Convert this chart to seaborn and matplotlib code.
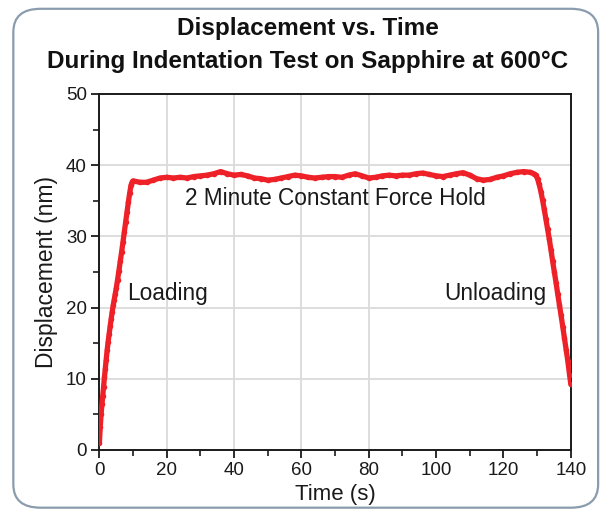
import numpy as np
import pandas as pd
import matplotlib
matplotlib.use("Agg")
import matplotlib.pyplot as plt
import seaborn as sns
from matplotlib.patches import FancyBboxPatch

# ---- data ----
load_t = [0.0, 0.25, 0.5, 0.75, 1.0, 1.25, 1.5, 1.75, 2.0, 2.3, 2.6, 2.9, 3.2, 3.5, 3.8,
          4.1, 4.4, 4.7, 5.0, 5.4, 5.8, 6.2, 6.6, 7.0, 7.4, 7.8, 8.2, 8.6, 9.0, 9.4, 9.8]
load_d = [1.0, 3.2, 5.0, 6.4, 7.6, 8.9, 10.2, 11.4, 12.6, 14.0, 15.2, 16.3, 17.4, 18.4, 19.4,
          20.3, 21.1, 21.9, 22.7, 23.9, 25.2, 26.5, 27.8, 29.2, 30.6, 32.0, 33.4, 34.8, 36.1, 37.2, 37.7]
hold_t = [10, 12, 14, 16, 18, 20, 22, 24, 26, 28, 30, 32, 34, 36, 38, 40, 42, 44, 46, 48,
          50, 52, 54, 56, 58, 60, 62, 64, 66, 68, 70, 72, 74, 76, 78, 80, 82, 84, 86, 88,
          90, 92, 94, 96, 98, 100, 102, 104, 106, 108, 110, 112, 114, 116, 118, 120, 122,
          124, 126, 128, 129]
hold_d = [37.8, 37.6, 37.6, 37.9, 38.2, 38.3, 38.2, 38.3, 38.2, 38.4, 38.5, 38.6, 38.8, 39.1,
          38.8, 38.6, 38.7, 38.5, 38.2, 38.1, 37.9, 38.0, 38.2, 38.4, 38.6, 38.5, 38.3, 38.2,
          38.3, 38.4, 38.4, 38.3, 38.6, 38.8, 38.5, 38.2, 38.3, 38.5, 38.6, 38.5, 38.6, 38.6,
          38.8, 38.9, 38.7, 38.5, 38.4, 38.6, 38.8, 38.95, 38.6, 38.1, 37.9, 38.0, 38.3, 38.5,
          38.8, 39.0, 39.1, 39.0, 38.8]
unload_t = [129.6, 130.1, 130.6, 131.1, 131.6, 132.1, 132.6, 133.1, 133.6, 134.1, 134.6,
            135.1, 135.6, 136.1, 136.6, 137.1, 137.6, 138.1, 138.6, 139.1, 139.6, 140.0]
unload_d = [38.6, 38.1, 37.3, 36.3, 35.1, 33.8, 32.4, 31.0, 29.6, 28.1, 26.5,
            25.0, 23.5, 21.9, 20.4, 18.9, 17.3, 15.7, 14.1, 12.5, 10.6, 9.2]

x_ticks = [0, 20, 40, 60, 80, 100, 120, 140]
y_ticks = [0, 10, 20, 30, 40, 50]

df = pd.DataFrame({"Time (s)": load_t + hold_t + unload_t,
                   "Displacement (nm)": load_d + hold_d + unload_d})

sns.set_theme(style="white")
plt.rcParams["font.family"] = ["Liberation Sans", "DejaVu Sans"]

fig = plt.figure(figsize=(6.06, 5.17), dpi=100)
fig.patch.set_facecolor("white")

# rounded frame (behind everything)
frame = FancyBboxPatch((0.022, 0.018), 0.965, 0.965,
                       boxstyle="round,pad=0,rounding_size=0.045",
                       transform=fig.transFigure, facecolor="white",
                       edgecolor="#8a9cad", linewidth=1.6, zorder=-10)
fig.patches.append(frame)

ax = fig.add_axes([0.164, 0.1296, 0.778, 0.6886])
ax.set_zorder(5)
ax.set_facecolor("none")

red = "#ee2128"
sns.lineplot(data=df, x="Time (s)", y="Displacement (nm)", ax=ax, color=red,
             linewidth=3.8, marker="o", markersize=4.0, markeredgewidth=0,
             sort=False, zorder=3)

ax.set_xlim(0, 140)
ax.set_ylim(0, 50)
ax.set_xticks(x_ticks)
ax.set_yticks(y_ticks)
ax.set_xticks(range(10, 140, 20), minor=True)
ax.set_yticks(range(5, 50, 10), minor=True)

for gx in [20, 40, 60, 80]:
    ax.axvline(gx, color="#dadada", linewidth=1.3, zorder=1)
for gy in [10, 20, 30, 40]:
    ax.axhline(gy, color="#dadada", linewidth=1.3, zorder=1)

for s in ax.spines.values():
    s.set_color("#1a1a1a")
    s.set_linewidth(1.4)

ax.tick_params(which="major", direction="out", length=6, width=1.3, colors="#1a1a1a",
               labelsize=13.5, labelcolor="#1a1a1a", pad=3, bottom=True, left=True)
ax.tick_params(which="minor", direction="out", length=4, width=1.2, colors="#1a1a1a",
               bottom=True, left=True)

ax.set_xlabel("Time (s)", fontsize=16, color="#1a1a1a", labelpad=3)
ax.set_ylabel("Displacement (nm)", fontsize=16.5, color="#1a1a1a", labelpad=6)

ax.text(70, 35.3, "2 Minute Constant Force Hold", ha="center", va="center",
        fontsize=16.3, color="#1a1a1a")
ax.text(8.2, 22.0, "Loading", ha="left", va="center", fontsize=16.3, color="#1a1a1a")
ax.text(132.8, 22.0, "Unloading", ha="right", va="center", fontsize=16.3, color="#1a1a1a")

title_font = ["Liberation Sans", "DejaVu Sans"]
fig.text(0.508, 0.945, "Displacement vs. Time", ha="center", va="center",
         fontsize=17.5, fontweight="bold", family=title_font, color="#111111")
fig.text(0.508, 0.882, "During Indentation Test on Sapphire at 600°C", ha="center",
         va="center", fontsize=17.5, fontweight="bold", family=title_font, color="#111111")

fig.savefig("out.png", dpi=100, facecolor="white")
